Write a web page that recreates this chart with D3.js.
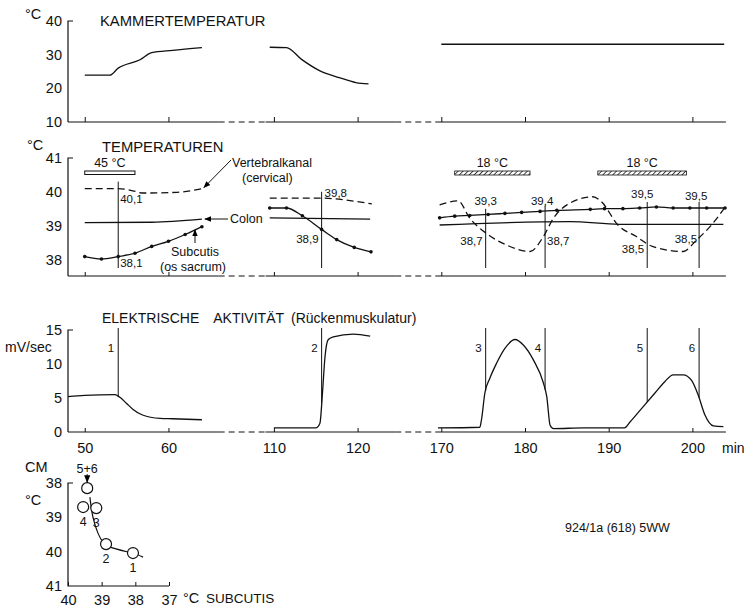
<!DOCTYPE html>
<html>
<head>
<meta charset="utf-8">
<script src="https://cdnjs.cloudflare.com/ajax/libs/d3/7.8.5/d3.min.js"></script>
<style>
  body { margin: 0; background: #fff; }
  svg { display: block; font-family: "Liberation Sans", Arial, sans-serif; }
</style>
</head>
<body>
<div id="chart"></div>
<script>
// ---- data (time in min) ----
const timeTicks = [50, 60, 110, 120, 170, 180, 190, 200];
const segSpans = [[48, 66], [109, 124.5], [169.5, 204]];

// chamber temperature (°C)
const kammer1 = [[50, 23.9], [53, 23.9], [54, 26], [56.6, 28.5], [58, 30.6], [60.5, 31.3], [64, 32.1]];
const kammer2 = [[109.5, 32.2], [111.5, 32.1], [113.3, 28.6], [115.5, 25.2], [117.8, 23.2], [119.8, 21.7], [121.3, 21.3]];
const kammer3 = [[170, 33.1], [203.8, 33.1]];

// Vertebralkanal (dashed)
const vert1 = [[50, 40.1], [54, 40.1], [55.5, 40.05], [57, 39.97], [61, 39.99], [64, 40.1]];
const vert2 = [[109.5, 39.82], [115.7, 39.82], [118.7, 39.76], [121.7, 39.65]];
const vert3 = [[169.8, 39.62], [172, 39.74], [173.4, 39.23], [175.4, 38.78], [177.8, 38.44], [180.6, 38.25],
  [182.2, 38.69], [183.4, 39.23], [185, 39.62], [188.1, 39.86], [189.1, 39.72], [191.1, 39.03], [193.3, 38.69],
  [195.3, 38.39], [198.9, 38.25], [200.5, 38.59], [202.1, 38.98], [203.9, 39.55]];

// Colon (solid)
const colon1 = [[50, 39.1], [58, 39.11], [64, 39.2]];
const colon2 = [[109.5, 39.24], [121.5, 39.2]];
const colon3 = [[169.8, 39.03], [185.4, 39.13], [191.3, 39.05], [203.7, 39.05]];

// Subcutis (solid with dots)
const sub1 = [[50, 38.1], [52, 38.03], [54, 38.1], [56, 38.2], [58, 38.4], [60, 38.55], [62, 38.75], [64, 38.98]];
const sub2 = [[109.5, 39.53], [111.5, 39.53], [113.4, 39.3], [115.7, 38.9], [117.5, 38.6], [119.6, 38.37], [121.6, 38.24]];
const sub3 = [[169.8, 39.24], [171.6, 39.29], [173.4, 39.31], [175.6, 39.34], [177.6, 39.37], [179.6, 39.4],
  [181.8, 39.43], [183.8, 39.46], [187.8, 39.49], [189.5, 39.51], [191.7, 39.51], [193.7, 39.53], [195.7, 39.56],
  [197.7, 39.53], [199.7, 39.53], [201.7, 39.53], [203.9, 39.53]];

// stimulus periods
const heatPeriods = [[50, 56]];
const heatLabels = ["45 °C"];
const coldPeriods = [[171.6, 180.6], [188.7, 199.3]];
const coldLabels = ["18 °C", "18 °C"];

// electrical activity (mV/sec)
const elec1 = [[48, 5.2], [50, 5.4], [53.6, 5.5], [54.2, 5.1], [55, 4.2], [55.7, 3.4], [56.9, 2.5], [59, 2.0], [60.5, 1.95], [64, 1.8]];
const elec2 = [[110, 0.6], [115, 0.6], [115.5, 1.3], [115.8, 5.7], [116.1, 11], [116.5, 13.6], [117.1, 14], [119.5, 14.4], [121.5, 14.1]];
const elec3 = [[169.6, 0.6], [174.6, 0.7], [174.8, 1.8], [175.2, 5.7], [175.8, 7.9], [176.6, 10.1], [177.6, 12.3],
  [178.8, 13.6], [179.8, 12.8], [181, 10.6], [182.2, 7.2], [182.6, 5.2], [183, 1.0], [183.4, 0.5], [187, 0.6],
  [191.9, 0.6], [192.5, 1.4], [194.1, 3.7], [195.5, 5.7], [196.7, 7.4], [197.7, 8.4], [198.9, 8.4], [199.9, 7.6],
  [200.7, 5.4], [201.5, 2.5], [202.5, 0.9], [203.7, 0.8]];

// measurement markers
const markerNames = ["1", "2", "3", "4", "5", "6"];
const markerTimes = [54, 115.7, 175.3, 182.4, 194.6, 200.8];
const markerUpper = ["40,1", "39,8", "39,3", "39,4", "39,5", "39,5"];
const markerLower = ["38,1", "38,9", "38,7", "38,7", "38,5", "38,5"];

// inset: CM vs subcutis
const insetNames = ["1", "2", "3", "4", "5+6"];
const insetSub = [38.07, 38.87, 39.16, 39.55, 39.43];
const insetCM = [40.04, 39.78, 38.73, 38.7, 38.15];
const insetCurve = [[39.35, 38.41], [39.26, 38.99], [39.11, 39.46], [38.96, 39.72], [38.87, 39.78],
  [38.75, 39.86], [38.22, 40.01], [38.07, 40.04], [37.77, 40.16]];

// ---- layout ----
const width = 746, height = 612;
const pxMin = 8.37;
const axisX = 68;

const svg = d3.select("#chart").append("svg")
  .attr("width", width).attr("height", height);
svg.append("rect").attr("width", width).attr("height", height).attr("fill", "#fff");

const defs = svg.append("defs");
defs.append("marker").attr("id", "arrow")
  .attr("viewBox", "0 0 10 10").attr("refX", 9).attr("refY", 5)
  .attr("markerWidth", 7).attr("markerHeight", 7).attr("orient", "auto")
  .append("path").attr("d", "M0,1 L10,5 L0,9 Z").attr("fill", "#000");
const hatch = defs.append("pattern").attr("id", "hatch")
  .attr("width", 3.5).attr("height", 3.5).attr("patternUnits", "userSpaceOnUse")
  .attr("patternTransform", "rotate(45)");
hatch.append("line").attr("x1", 0).attr("y1", 0).attr("x2", 0).attr("y2", 3.5)
  .attr("stroke", "#000").attr("stroke-width", 1.4);

// broken time scale: three segments with gaps squeezed out
const x = d3.scaleLinear()
  .domain([48, 68, 105.4, 126, 166, 204])
  .range([axisX, axisX + 20 * pxMin, axisX + 20 * pxMin,
          axisX + 20 * pxMin + 20.6 * pxMin, axisX + 20 * pxMin + 20.6 * pxMin,
          axisX + 20 * pxMin + 20.6 * pxMin + 38 * pxMin]);

const yK = d3.scaleLinear().domain([10, 40]).range([122, 21]);
const yT = d3.scaleLinear().domain([38, 41]).range([260, 158]);
const yE = d3.scaleLinear().domain([0, 15]).range([432, 330]);
const xI = d3.scaleLinear().domain([40, 37]).range([68, 169]);
const yI = d3.scaleLinear().domain([38, 41]).range([483, 586]);

const ink = "#111";
const fmt = d3.format("d");

function txt(xp, yp, s, size, anchor) {
  return svg.append("text").attr("x", xp).attr("y", yp)
    .attr("font-size", size).attr("text-anchor", anchor || "start")
    .attr("fill", ink).text(s);
}

// y axis with labels left, top bracket tick
function yAxis(scale, vals, bottomY) {
  const g = svg.append("g").attr("transform", `translate(${axisX},0)`)
    .call(d3.axisLeft(scale).tickValues(vals).tickSize(0).tickPadding(6).tickFormat(fmt));
  g.select(".domain").remove();
  g.selectAll("text").attr("font-size", 14.5).attr("font-family", null).attr("fill", ink);
  const top = d3.min(vals.map(scale));
  svg.append("path")
    .attr("d", `M${axisX + 5},${top} H${axisX} V${bottomY}`)
    .attr("fill", "none").attr("stroke", ink).attr("stroke-width", 1.2);
}

// time axis: solid under data, dashed across the gaps, ticks pointing up
function timeAxis(yPos, tickLen, labels) {
  const g = svg.append("g").attr("transform", `translate(0,${yPos})`)
    .call(d3.axisBottom(x).tickValues(timeTicks).tickSize(-tickLen).tickPadding(11)
      .tickFormat(labels ? fmt : ""));
  g.select(".domain").remove();
  g.selectAll("line").attr("stroke", ink);
  g.selectAll("text").attr("font-size", 14.5).attr("font-family", null).attr("fill", ink);
  segSpans.forEach(s => {
    svg.append("line").attr("x1", x(s[0])).attr("x2", x(s[1]))
      .attr("y1", yPos).attr("y2", yPos).attr("stroke", ink).attr("stroke-width", 1.2);
  });
  for (let i = 0; i < segSpans.length - 1; i++) {
    svg.append("line").attr("x1", x(segSpans[i][1])).attr("x2", x(segSpans[i + 1][0]))
      .attr("y1", yPos).attr("y2", yPos).attr("stroke", ink).attr("stroke-width", 1.1)
      .attr("stroke-dasharray", "6,4");
  }
}

function drawLine(data, ys, dash, curve) {
  const line = d3.line().x(d => x(d[0])).y(d => ys(d[1])).curve(curve || d3.curveMonotoneX);
  svg.append("path").datum(data).attr("d", line)
    .attr("fill", "none").attr("stroke", ink).attr("stroke-width", 1.3)
    .attr("stroke-dasharray", dash || null);
}

function valueAt(segs, t) {
  for (const s of segs) {
    for (let i = 0; i < s.length - 1; i++) {
      if (t >= s[i][0] && t <= s[i + 1][0]) {
        const f = (t - s[i][0]) / (s[i + 1][0] - s[i][0]);
        return s[i][1] + f * (s[i + 1][1] - s[i][1]);
      }
    }
  }
  return 0;
}

// ----------------------------
// Panel 1: Kammertemperatur
// ----------------------------
txt(25, 19, "°C", 14.5);
txt(100, 26, "KAMMERTEMPERATUR", 14.8);
yAxis(yK, [10, 20, 30, 40], 122);
timeAxis(122, 5, false);
[kammer1, kammer2, kammer3].forEach(d => drawLine(d, yK));

// ----------------------------
// Panel 2: Temperaturen
// ----------------------------
txt(27, 150, "°C", 14.5);
txt(102, 152, "TEMPERATUREN", 14.8);
yAxis(yT, [38, 39, 40, 41], 276);
timeAxis(276, 4, false);

heatPeriods.forEach((p, i) => {
  svg.append("rect").attr("x", x(p[0])).attr("y", 171).attr("width", x(p[1]) - x(p[0])).attr("height", 3.5)
    .attr("fill", "#fff").attr("stroke", ink).attr("stroke-width", 1);
  txt((x(p[0]) + x(p[1])) / 2, 167, heatLabels[i], 12.5, "middle");
});
coldPeriods.forEach((p, i) => {
  svg.append("rect").attr("x", x(p[0])).attr("y", 171).attr("width", x(p[1]) - x(p[0])).attr("height", 4)
    .attr("fill", "url(#hatch)").attr("stroke", ink).attr("stroke-width", 0.8);
  txt((x(p[0]) + x(p[1])) / 2, 167, coldLabels[i], 12.5, "middle");
});

[vert1, vert2, vert3].forEach(d => drawLine(d, yT, "7,4"));
[colon1, colon2, colon3].forEach(d => drawLine(d, yT));
[sub1, sub2, sub3].forEach(d => {
  drawLine(d, yT);
  svg.append("g").selectAll("circle").data(d).enter().append("circle")
    .attr("cx", p => x(p[0])).attr("cy", p => yT(p[1])).attr("r", 1.8).attr("fill", ink);
});

// series labels with arrows
txt(232, 167, "Vertebralkanal", 12.5);
txt(242, 182, "(cervical)", 12.5);
svg.append("line").attr("x1", 231).attr("y1", 160).attr("x2", x(64) + 2).attr("y2", yT(40.1) - 1)
  .attr("stroke", ink).attr("stroke-width", 1).attr("marker-end", "url(#arrow)");
txt(230, 223, "Colon", 12.5);
svg.append("line").attr("x1", 228).attr("y1", 219).attr("x2", x(64) + 3).attr("y2", 219)
  .attr("stroke", ink).attr("stroke-width", 1).attr("marker-end", "url(#arrow)");
txt(195, 256, "Subcutis", 12.5, "middle");
txt(193, 271, "(os sacrum)", 12.5, "middle");
svg.append("line").attr("x1", 195).attr("y1", 243).attr("x2", 195).attr("y2", 230)
  .attr("stroke", ink).attr("stroke-width", 1).attr("marker-end", "url(#arrow)");

// marker lines and their readings
const tempLabelPos = [
  { ux: 2, uy: 203, ua: "start", lx: 2, ly: 267, la: "start" },
  { ux: 3, uy: 197, ua: "start", lx: -3, ly: 243, la: "end" },
  { ux: 0, uy: 205, ua: "middle", lx: -3, ly: 245, la: "end" },
  { ux: -3, uy: 205, ua: "middle", lx: 2, ly: 245, la: "start" },
  { ux: -5, uy: 198, ua: "middle", lx: -3, ly: 253, la: "end" },
  { ux: -3, uy: 200, ua: "middle", lx: -2, ly: 243, la: "end" }
];
markerTimes.forEach((t, i) => {
  const mx = x(t);
  const top = yT(+markerUpper[i].replace(",", ".")) - 7;
  svg.append("line").attr("x1", mx).attr("x2", mx).attr("y1", top).attr("y2", 268)
    .attr("stroke", ink).attr("stroke-width", 1);
  const p = tempLabelPos[i];
  txt(mx + p.ux, p.uy, markerUpper[i], 11.5, p.ua);
  txt(mx + p.lx, p.ly, markerLower[i], 11.5, p.la);
});

// ----------------------------
// Panel 3: Elektrische Aktivität
// ----------------------------
txt(102, 323, "ELEKTRISCHE\u2003AKTIVITÄT\u2002(Rückenmuskulatur)", 14);
txt(5, 352, "mV/sec", 14);
yAxis(yE, [0, 5, 10, 15], 432);
timeAxis(432, 4, true);
txt(722, 453, "min", 14);
[elec1, elec2, elec3].forEach(d => drawLine(d, yE));

markerTimes.forEach((t, i) => {
  const mx = x(t);
  svg.append("line").attr("x1", mx).attr("x2", mx).attr("y1", 328)
    .attr("y2", yE(valueAt([elec1, elec2, elec3], t)))
    .attr("stroke", ink).attr("stroke-width", 1);
  txt(mx - 4, 352, markerNames[i], 11.5, "end");
});

// ----------------------------
// Panel 4: inset CM vs subcutis
// ----------------------------
txt(25, 472, "CM", 14.5);
txt(25, 505, "°C", 14.5);
const gI = svg.append("g").attr("transform", `translate(${axisX},0)`)
  .call(d3.axisLeft(yI).tickValues([38, 39, 40, 41]).tickSize(0).tickPadding(6).tickFormat(fmt));
gI.select(".domain").remove();
gI.selectAll("text").attr("font-size", 14.5).attr("font-family", null).attr("fill", ink);
const gIx = svg.append("g").attr("transform", `translate(0,${yI(41)})`)
  .call(d3.axisBottom(xI).tickValues([40, 39, 38, 37]).tickSize(-4).tickPadding(9).tickFormat(fmt));
gIx.select(".domain").remove();
gIx.selectAll("line").attr("stroke", ink);
gIx.selectAll("text").attr("font-size", 14.5).attr("font-family", null).attr("fill", ink);
svg.append("path")
  .attr("d", `M${axisX + 5},${yI(38)} H${axisX} V${yI(41)} H${xI(37)}`)
  .attr("fill", "none").attr("stroke", ink).attr("stroke-width", 1.2);
txt(183, 603, "°C", 14.5);
txt(206, 603, "SUBCUTIS", 13.5);

svg.append("path").datum(insetCurve)
  .attr("d", d3.line().x(d => xI(d[0])).y(d => yI(d[1])).curve(d3.curveCatmullRom))
  .attr("fill", "none").attr("stroke", ink).attr("stroke-width", 1.2);
insetNames.forEach((n, i) => {
  const cx = xI(insetSub[i]), cy = yI(insetCM[i]);
  svg.append("circle").attr("cx", cx).attr("cy", cy).attr("r", 5.5)
    .attr("fill", "#fff").attr("stroke", ink).attr("stroke-width", 1.2);
  if (n === "5+6") {
    txt(cx, cy - 15, n, 12.5, "middle");
    svg.append("line").attr("x1", cx).attr("x2", cx).attr("y1", cy - 14).attr("y2", cy - 6)
      .attr("stroke", ink).attr("stroke-width", 1.1).attr("marker-end", "url(#arrow)");
  } else {
    txt(cx, cy + 19, n, 12.5, "middle");
  }
});

txt(565, 532, "924/1a (618) 5WW", 12.5);
</script>
</body>
</html>
